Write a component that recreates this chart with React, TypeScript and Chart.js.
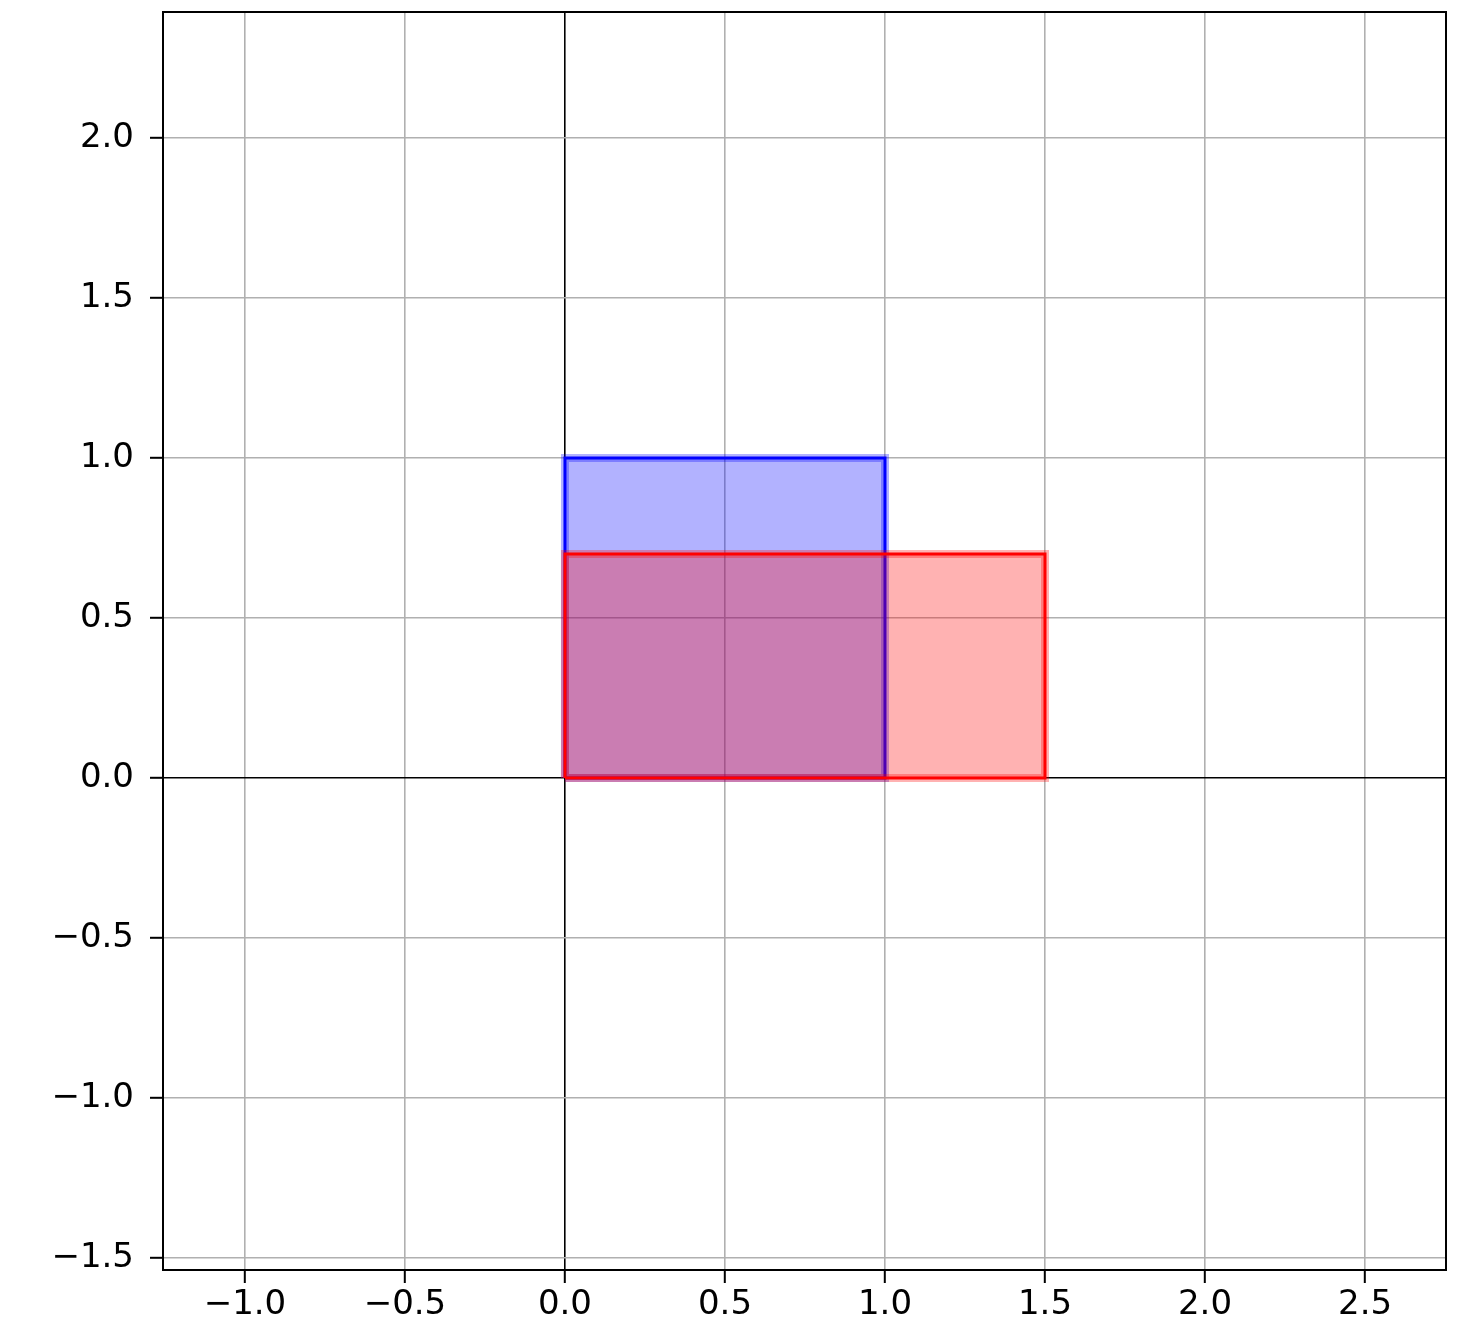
import { useEffect, useRef } from 'react';
import { Chart, registerables } from 'chart.js';

Chart.register(...registerables);

// ---- data ----
const xTickValues = [-1.0, -0.5, 0.0, 0.5, 1.0, 1.5, 2.0, 2.5];
const yTickValues = [-1.5, -1.0, -0.5, 0.0, 0.5, 1.0, 1.5, 2.0];
const xLimits = [-1.256, 2.753];
const yLimits = [-1.5375, 2.394];
const rectNames = ['Blue', 'Red'];
const rectX0 = [0, 0];
const rectX1 = [1, 1.5];
const rectY0 = [0, 0];
const rectY1 = [1, 0.7];

// ---- styles ----
const rectRGB = ['0,0,255', '255,0,0'];
const W = 1474;
const H = 1329;

const fmt = (v: number) => (v < 0 ? '\u2212' : '') + Math.abs(v).toFixed(1);

const spinesPlugin = {
  id: 'spines',
  afterDraw(chart: any) {
    const { ctx, chartArea } = chart;
    ctx.save();
    ctx.strokeStyle = '#000';
    ctx.lineWidth = 2;
    ctx.strokeRect(chartArea.left, chartArea.top, chartArea.right - chartArea.left, chartArea.bottom - chartArea.top);
    ctx.restore();
  },
};

export default function App() {
  const ref = useRef<HTMLCanvasElement | null>(null);

  useEffect(() => {
    if (!ref.current) return;
    const n = rectNames.length;
    const datasets: any[] = [];
    rectNames.forEach((name, i) => {
      const c = rectRGB[i];
      const base = (n - 1 - i) * 3;
      const poly = [
        { x: rectX0[i], y: rectY0[i] },
        { x: rectX1[i], y: rectY0[i] },
        { x: rectX1[i], y: rectY1[i] },
        { x: rectX0[i], y: rectY1[i] },
        { x: rectX0[i], y: rectY0[i] },
      ];
      datasets.push({
        label: name + ' fill',
        data: [
          { x: rectX0[i], y: rectY1[i] },
          { x: rectX1[i], y: rectY1[i] },
        ],
        showLine: true,
        borderWidth: 0,
        borderColor: 'rgba(0,0,0,0)',
        backgroundColor: `rgba(${c},0.3)`,
        fill: { value: rectY0[i] },
        pointRadius: 0,
        order: base + 2,
      });
      datasets.push({
        label: name + ' halo',
        data: poly,
        showLine: true,
        borderWidth: 8,
        borderColor: `rgba(${c},0.3)`,
        fill: false,
        pointRadius: 0,
        borderJoinStyle: 'miter',
        order: base + 1,
      });
      datasets.push({
        label: name,
        data: poly,
        showLine: true,
        borderWidth: 3,
        borderColor: `rgb(${c})`,
        fill: false,
        pointRadius: 0,
        borderJoinStyle: 'miter',
        order: base,
      });
    });

    const gridColor = (ctx: any) => (ctx.tick && ctx.tick.value === 0 ? '#000' : '#b0b0b0');

    const chart = new Chart(ref.current, {
      type: 'scatter',
      data: { datasets },
      plugins: [spinesPlugin],
      options: {
        animation: false,
        responsive: false,
        devicePixelRatio: 1,
        layout: { padding: { left: 0, top: 12, right: 28, bottom: 0 } },
        plugins: { legend: { display: false }, tooltip: { enabled: false } },
        elements: { line: { tension: 0 } },
        scales: {
          x: {
            type: 'linear',
            position: 'bottom',
            min: xLimits[0],
            max: xLimits[1],
            z: 1,
            afterBuildTicks: (s: any) => {
              s.ticks = xTickValues.map((v) => ({ value: v }));
            },
            afterFit: (s: any) => {
              s.height = 59;
              s.paddingLeft = 0;
              s.paddingRight = 0;
            },
            grid: {
              color: gridColor,
              lineWidth: 1.6,
              drawTicks: true,
              tickLength: 13,
              tickColor: '#000',
              tickWidth: 2,
            },
            border: { display: true, color: '#000', width: 2 },
            ticks: {
              color: '#000',
              font: { size: 34, family: 'DejaVu Sans' },
              padding: 2,
              autoSkip: false,
              maxRotation: 0,
              callback: (v: any) => fmt(Number(v)),
            },
          },
          y: {
            type: 'linear',
            position: 'left',
            min: yLimits[0],
            max: yLimits[1],
            z: 1,
            afterBuildTicks: (s: any) => {
              s.ticks = yTickValues.map((v) => ({ value: v }));
            },
            afterFit: (s: any) => {
              s.width = 163;
              s.paddingTop = 0;
              s.paddingBottom = 0;
            },
            grid: {
              color: gridColor,
              lineWidth: 1.6,
              drawTicks: true,
              tickLength: 13,
              tickColor: '#000',
              tickWidth: 2,
            },
            border: { display: true, color: '#000', width: 2 },
            ticks: {
              color: '#000',
              font: { size: 34, family: 'DejaVu Sans' },
              padding: 16,
              autoSkip: false,
              callback: (v: any) => fmt(Number(v)),
            },
          },
        },
      } as any,
    });
    return () => chart.destroy();
  }, []);

  return (
    <canvas
      ref={ref}
      width={W}
      height={H}
      style={{ position: 'fixed', left: 0, top: 0, width: W, height: H, display: 'block', background: '#fff' }}
    />
  );
}
